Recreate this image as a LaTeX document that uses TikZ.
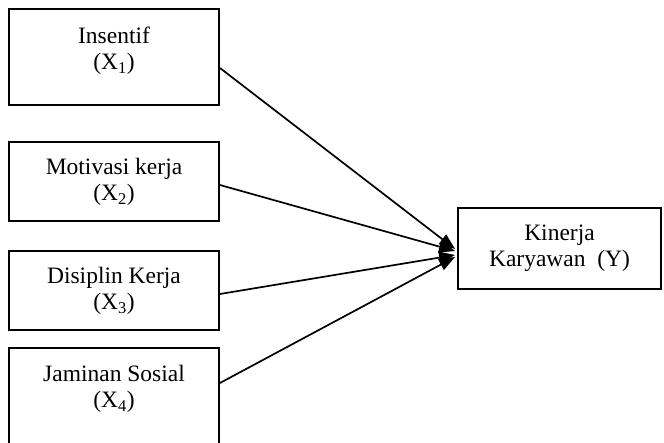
\documentclass[tikz,border=0pt]{standalone}
\usepackage{fontspec}
\setmainfont{Liberation Serif}
\usetikzlibrary{positioning,calc,arrows.meta}
\tikzset{
  varbox/.style={draw, line width=1.9pt, minimum width=210pt, inner sep=0pt},
  vartext/.style={align=center, inner sep=0pt, font=\fontsize{23.5}{26}\selectfont},
  arr/.style={line width=1.7pt, -{Triangle[length=16pt,width=12pt]}}
}
\begin{document}
\begin{tikzpicture}[x=1pt,y=1pt]
  \useasboundingbox (0,0) rectangle (664,-442);
  \clip (0,0) rectangle (664,-442);

  %%%%% boxes %%%%%
  \node[varbox, minimum height=96pt] (ins) at (114,-57) {};
  \node[varbox, minimum height=79pt] (mot) at (114,-181.5) {};
  \node[varbox, minimum height=79pt] (dis) at (114,-290.5) {};
  \node[varbox, minimum height=96pt] (jam) at (114,-396) {};
  \node[varbox, minimum width=203pt, minimum height=81pt] (kin) at (559.5,-248.5) {};

  %%%%% texts %%%%%
  \node[vartext, below=19pt of ins.north] (ins-t) {Insentif\\(X\textsubscript{1})};
  \node[vartext, below=17pt of mot.north] (mot-t) {Motivasi kerja\\(X\textsubscript{2})};
  \node[vartext, below=17pt of dis.north] (dis-t) {Disiplin Kerja\\(X\textsubscript{3})};
  \node[vartext, below=18pt of jam.north] (jam-t) {Jaminan Sosial\\(X\textsubscript{4})};
  \node[vartext, below=18pt of kin.north] (kin-t) {Kinerja\\Karyawan\ \ (Y)};

  %%%%% arrows %%%%%
  \coordinate (t1) at ($(kin.west)+(-2,-0.5)$);
  \coordinate (t2) at ($(kin.west)+(-2,-2.5)$);
  \coordinate (t3) at ($(kin.west)+(-2,-6.5)$);
  \coordinate (t4) at ($(kin.west)+(-2,-8.5)$);
  \draw[arr] ([yshift=-11pt]ins.east) -- (t1);
  \draw[arr] ([yshift=-3.5pt]mot.east) -- (t2);
  \draw[arr] ([yshift=-3.5pt]dis.east) -- (t3);
  \draw[arr] ([yshift=13pt]jam.east) -- (t4);
\end{tikzpicture}
\end{document}
